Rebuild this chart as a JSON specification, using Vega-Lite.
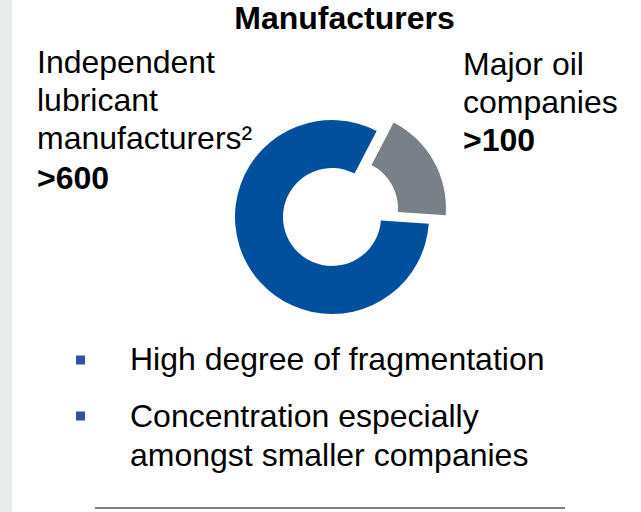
{
  "$schema": "https://vega.github.io/schema/vega-lite/v6.json",
  "width": 629,
  "height": 512,
  "autosize": {"type": "none"},
  "padding": {"left": 12, "top": 0, "right": 0, "bottom": 0},
  "background": "white",
  "config": {
    "view": {"stroke": null},
    "font": "Liberation Sans",
    "text": {"font": "Liberation Sans", "color": "black"}
  },
  "title": {
    "text": "Manufacturers",
    "font": "Liberation Sans",
    "fontSize": 32,
    "fontWeight": "bold",
    "color": "black",
    "anchor": "middle",
    "frame": "group",
    "offset": -36,
    "dx": 18
  },
  "datasets": {
    "segments": [
      {"segment": "Independent lubricant manufacturers²", "label": "Independent\nlubricant\nmanufacturers²", "count": ">600", "share": 81.5},
      {"segment": "Major oil companies", "label": "Major oil\ncompanies", "count": ">100", "share": 18.5}
    ],
    "notes": [
      {"note": "High degree of fragmentation", "item": 1},
      {"note": "Concentration especially\namongst smaller companies", "item": 2}
    ]
  },
  "layer": [
    {
      "data": {"name": "notes"},
      "transform": [{"filter": "datum.item === 1"}],
      "mark": {"type": "rect", "color": "#e9eaec"},
      "encoding": {"x": {"value": -12}, "x2": {"value": 0}, "y": {"value": 0}, "y2": {"value": 512}}
    },
    {
      "data": {"name": "segments"},
      "mark": {"type": "arc", "innerRadius": 49, "radius": 97, "xOffset": 5.5, "yOffset": -39},
      "encoding": {
        "theta": {"field": "share", "type": "quantitative", "stack": true, "scale": {"range": [1.6406, 7.9238]}},
        "order": {"field": "share", "sort": "descending"},
        "color": {"field": "segment", "type": "nominal", "scale": {"domain": ["Independent lubricant manufacturers²", "Major oil companies"], "range": ["#00509e", "#7a8088"]}, "legend": null},
        "opacity": {"condition": {"test": "datum.segment === 'Major oil companies'", "value": 0}, "value": 1}
      }
    },
    {
      "data": {"name": "segments"},
      "mark": {"type": "arc", "innerRadius": 49, "radius": 97, "xOffset": 22.5, "yOffset": -47.5},
      "encoding": {
        "theta": {"field": "share", "type": "quantitative", "stack": true, "scale": {"range": [1.6406, 7.9238]}},
        "order": {"field": "share", "sort": "descending"},
        "color": {"field": "segment", "type": "nominal", "legend": null},
        "opacity": {"condition": {"test": "datum.segment === 'Major oil companies'", "value": 1}, "value": 0}
      }
    },
    {
      "data": {"name": "segments"},
      "transform": [{"filter": "datum.share > 50"}],
      "layer": [
        {
          "mark": {"type": "text", "align": "left", "baseline": "alphabetic", "x": 25, "y": 73, "fontSize": 32, "lineBreak": "\n", "lineHeight": 38},
          "encoding": {"text": {"field": "label"}}
        },
        {
          "mark": {"type": "text", "align": "left", "baseline": "alphabetic", "x": 25, "y": 189, "fontSize": 32, "fontWeight": "bold"},
          "encoding": {"text": {"field": "count"}}
        }
      ]
    },
    {
      "data": {"name": "segments"},
      "transform": [{"filter": "datum.share < 50"}],
      "layer": [
        {
          "mark": {"type": "text", "align": "left", "baseline": "alphabetic", "x": 451, "y": 75, "fontSize": 32, "lineBreak": "\n", "lineHeight": 38},
          "encoding": {"text": {"field": "label"}}
        },
        {
          "mark": {"type": "text", "align": "left", "baseline": "alphabetic", "x": 451, "y": 151, "fontSize": 32, "fontWeight": "bold"},
          "encoding": {"text": {"field": "count"}}
        }
      ]
    },
    {
      "data": {"name": "notes"},
      "transform": [{"filter": "datum.item === 1"}],
      "layer": [
        {
          "mark": {"type": "point", "shape": "square", "filled": true, "size": 81, "color": "#3452a4", "opacity": 1, "x": 68.5, "y": 360},
          "encoding": {}
        },
        {
          "mark": {"type": "text", "align": "left", "baseline": "alphabetic", "x": 118, "y": 370, "fontSize": 32},
          "encoding": {"text": {"field": "note"}}
        }
      ]
    },
    {
      "data": {"name": "notes"},
      "transform": [{"filter": "datum.item === 2"}],
      "layer": [
        {
          "mark": {"type": "point", "shape": "square", "filled": true, "size": 81, "color": "#3452a4", "opacity": 1, "x": 68.5, "y": 416},
          "encoding": {}
        },
        {
          "mark": {"type": "text", "align": "left", "baseline": "alphabetic", "x": 118, "y": 427, "fontSize": 32, "lineBreak": "\n", "lineHeight": 39},
          "encoding": {"text": {"field": "note"}}
        }
      ]
    },
    {
      "data": {"name": "notes"},
      "transform": [{"filter": "datum.item === 2"}],
      "mark": {"type": "rule", "color": "#7b8187", "strokeWidth": 2},
      "encoding": {"x": {"value": 83}, "x2": {"value": 553}, "y": {"value": 508}}
    }
  ]
}
